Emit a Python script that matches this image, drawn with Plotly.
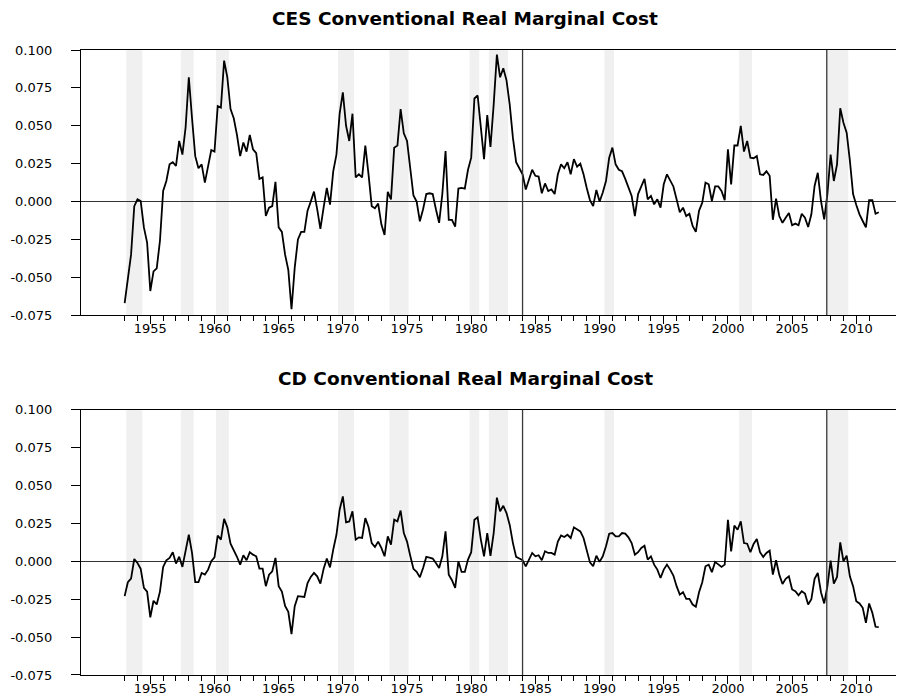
import plotly.graph_objects as go

# ---------------- data (quarterly, 1953Q1 .. 2011Q4) ----------------
start_year = 1953

ces_values = [
    -0.067, -0.052, -0.035, -0.003,      # 1953
    0.0015, 0.0004, -0.017, -0.027,      # 1954
    -0.059, -0.046, -0.044, -0.026,      # 1955
    0.007, 0.0136, 0.0246, 0.026,        # 1956
    0.0235, 0.040, 0.031, 0.049,         # 1957
    0.082, 0.055, 0.030, 0.022,          # 1958
    0.0246, 0.0125, 0.0235, 0.034,       # 1959
    0.033, 0.063, 0.062, 0.093,          # 1960
    0.082, 0.061, 0.055, 0.044,          # 1961
    0.030, 0.039, 0.033, 0.044,          # 1962
    0.0345, 0.032, 0.015, 0.016,         # 1963
    -0.0095, -0.004, -0.003, 0.013,      # 1964
    -0.017, -0.020, -0.035, -0.045,      # 1965
    -0.071, -0.0436, -0.025, -0.020,     # 1966
    -0.020, -0.006, 0.0, 0.0066,         # 1967
    -0.005, -0.018, -0.004, 0.009,       # 1968
    -0.002, 0.020, 0.031, 0.058,         # 1969
    0.072, 0.050, 0.040, 0.058,          # 1970
    0.016, 0.018, 0.016, 0.037,          # 1971
    0.018, -0.003, -0.0044, -0.0013,     # 1972
    -0.015, -0.022, 0.0064, 0.0015,      # 1973
    0.0356, 0.037, 0.061, 0.045,         # 1974
    0.040, 0.022, 0.004, 0.0,            # 1975
    -0.013, -0.005, 0.005, 0.0055,       # 1976
    0.005, -0.005, -0.014, 0.005,        # 1977
    0.0334, -0.012, -0.012, -0.0165,     # 1978
    0.0086, 0.009, 0.0086, 0.021,        # 1979
    0.029, 0.068, 0.070, 0.049,          # 1980
    0.028, 0.057, 0.036, 0.064,          # 1981
    0.097, 0.082, 0.088, 0.080,          # 1982
    0.064, 0.042, 0.026, 0.022,          # 1983
    0.018, 0.008, 0.015, 0.021,          # 1984
    0.017, 0.0165, 0.0055, 0.012,        # 1985
    0.007, 0.008, 0.005, 0.018,          # 1986
    0.0246, 0.022, 0.026, 0.018,         # 1987
    0.028, 0.023, 0.025, 0.018,          # 1988
    0.009, 0.001, -0.003, 0.0077,        # 1989
    0.0, 0.006, 0.0136, 0.029,           # 1990
    0.0356, 0.0246, 0.021, 0.020,        # 1991
    0.015, 0.009, 0.0037, -0.0095,       # 1992
    0.005, 0.010, 0.015, 0.0015,         # 1993
    0.0037, -0.0018, 0.0015, -0.004,     # 1994
    0.0114, 0.018, 0.014, 0.010,         # 1995
    0.0015, -0.007, -0.004, -0.0095,     # 1996
    -0.008, -0.016, -0.020, -0.006,      # 1997
    -0.0007, 0.0125, 0.0114, 0.0004,     # 1998
    0.010, 0.010, 0.007, 0.001,          # 1999
    0.0345, 0.0114, 0.037, 0.037,        # 2000
    0.050, 0.033, 0.040, 0.029,          # 2001
    0.0286, 0.030, 0.018, 0.0176,        # 2002
    0.020, 0.017, -0.012, 0.002,         # 2003
    -0.0095, -0.014, -0.0106, -0.0075,   # 2004
    -0.0156, -0.0145, -0.0156, -0.008,   # 2005
    -0.0106, -0.0167, -0.0084, 0.0103,   # 2006
    0.019, 0.0004, -0.0117, 0.005,       # 2007
    0.031, 0.0136, 0.0246, 0.0616,       # 2008
    0.052, 0.0455, 0.027, 0.005,         # 2009
    -0.0022, -0.0084, -0.0128, -0.017,   # 2010
    0.0009, 0.0009, -0.008, -0.007,      # 2011
]

cd_values = [
    -0.023, -0.0138, -0.0114, 0.0015,    # 1953
    -0.0011, -0.005, -0.0175, -0.020,    # 1954
    -0.037, -0.026, -0.0285, -0.020,     # 1955
    -0.0037, 0.0007, 0.0022, 0.006,      # 1956
    -0.0015, 0.003, -0.0037, 0.0077,     # 1957
    0.0175, 0.0055, -0.0138, -0.0138,    # 1958
    -0.0077, -0.0088, -0.0055, 0.0,      # 1959
    0.0026, 0.017, 0.0143, 0.028,        # 1960
    0.0224, 0.0116, 0.0077, 0.003,       # 1961
    -0.0022, 0.004, 0.0007, 0.006,       # 1962
    0.0044, 0.0033, -0.0048, -0.0048,    # 1963
    -0.0164, -0.0088, -0.0066, 0.0022,   # 1964
    -0.0164, -0.020, -0.0295, -0.0333,   # 1965
    -0.048, -0.0296, -0.023, -0.0235,    # 1966
    -0.0235, -0.0143, -0.0103, -0.0077,  # 1967
    -0.0099, -0.0147, -0.005, 0.0018,    # 1968
    -0.004, 0.0077, 0.0175, 0.034,       # 1969
    0.0428, 0.0257, 0.0263, 0.033,       # 1970
    0.0143, 0.0158, 0.0154, 0.0285,      # 1971
    0.0226, 0.012, 0.0094, 0.013,        # 1972
    0.0088, 0.0033, 0.0164, 0.011,       # 1973
    0.0274, 0.0263, 0.0335, 0.0186,      # 1974
    0.013, 0.0037, -0.005, -0.007,       # 1975
    -0.0105, -0.0044, 0.0029, 0.0024,    # 1976
    0.0018, -0.0011, -0.0044, 0.0033,    # 1977
    0.0197, -0.0088, -0.0125, -0.0175,   # 1978
    0.0, -0.007, -0.007, 0.0011,         # 1979
    0.006, 0.0274, 0.029, 0.0143,        # 1980
    0.0033, 0.0186, 0.0035, 0.0186,      # 1981
    0.042, 0.033, 0.0366, 0.0318,        # 1982
    0.024, 0.012, 0.0029, 0.0018,        # 1983
    0.0007, -0.0033, 0.0007, 0.0055,     # 1984
    0.0033, 0.004, 0.0007, 0.0066,       # 1985
    0.0055, 0.0055, 0.0044, 0.013,       # 1986
    0.017, 0.016, 0.0175, 0.0154,        # 1987
    0.0224, 0.0208, 0.0197, 0.0154,      # 1988
    0.0066, -0.0007, -0.0033, 0.0037,    # 1989
    -0.0004, 0.0033, 0.0099, 0.0182,     # 1990
    0.0186, 0.0164, 0.0164, 0.0186,      # 1991
    0.0182, 0.0158, 0.012, 0.0044,       # 1992
    0.006, 0.0088, 0.0103, 0.0011,       # 1993
    0.0033, -0.0022, -0.0055, -0.011,    # 1994
    -0.0055, -0.0022, -0.0055, -0.0094,  # 1995
    -0.0164, -0.022, -0.0204, -0.0248,   # 1996
    -0.0248, -0.0285, -0.030, -0.0204,   # 1997
    -0.0138, -0.0033, -0.0022, -0.0072,  # 1998
    -0.0004, -0.0022, -0.0037, -0.0022,  # 1999
    0.0274, 0.0066, 0.0235, 0.0208,      # 2000
    0.0263, 0.012, 0.0116, 0.006,        # 2001
    0.0114, 0.0147, 0.006, 0.0029,       # 2002
    0.0055, 0.007, -0.0088, 0.0007,      # 2003
    -0.0088, -0.015, -0.0116, -0.0099,   # 2004
    -0.0186, -0.0197, -0.0224, -0.0197,  # 2005
    -0.0213, -0.0285, -0.025, -0.0116,   # 2006
    -0.0077, -0.0204, -0.0278, -0.0164,  # 2007
    0.0004, -0.0147, -0.0103, 0.0125,    # 2008
    0.0, 0.0037, -0.0099, -0.0164,       # 2009
    -0.0263, -0.0278, -0.0307, -0.0406,  # 2010
    -0.0278, -0.034, -0.0432, -0.0434,   # 2011
]

# NBER recessions: (peak quarter, trough quarter) as decimal years
recession_starts = [1953.25, 1957.5, 1960.25, 1969.75, 1973.75, 1980.0, 1981.5, 1990.5, 2001.0, 2007.75]
recession_ends = [1954.25, 1958.25, 1961.0, 1970.75, 1975.0, 1980.5, 1982.75, 1991.0, 2001.75, 2009.25]

break_dates = [1984.0, 2007.7]

titles = ["CES Conventional Real Marginal Cost", "CD Conventional Real Marginal Cost"]

major_years = list(range(1955, 2011, 5))
minor_years = list(range(1953, 2012))
y_tickvals = [-0.075, -0.05, -0.025, 0.0, 0.025, 0.05, 0.075, 0.1]
y_ticktext = ["-0.075", "-0.050", "-0.025", "0.000", "0.025", "0.050", "0.075", "0.100"]

# ---------------- figure ----------------
x_dates = [start_year + i / 4 for i in range(len(ces_values))]

fig = go.Figure()
fig.add_trace(go.Scatter(x=x_dates, y=ces_values, mode="lines",
                         line=dict(color="black", width=1.8), xaxis="x", yaxis="y",
                         showlegend=False))
fig.add_trace(go.Scatter(x=x_dates, y=cd_values, mode="lines",
                         line=dict(color="black", width=1.8), xaxis="x2", yaxis="y2",
                         showlegend=False))

tick_font = dict(family="DejaVu Sans", size=13, color="black")

xaxis_common = dict(
    range=[1949.6, 2014.34], tickmode="array", tickvals=major_years,
    ticktext=[str(y) for y in major_years],
    ticks="outside", ticklen=8, tickwidth=1, tickcolor="black",
    showline=True, linecolor="black", linewidth=1.2, mirror=True,
    showgrid=False, zeroline=False, tickfont=tick_font, ticklabelstandoff=-7,
    minor=dict(tickmode="array", tickvals=minor_years, ticks="outside",
               ticklen=5, tickwidth=1, tickcolor="black", showgrid=False),
)
yaxis_common = dict(
    range=[-0.075, 0.1], tickmode="array", tickvals=y_tickvals, ticktext=y_ticktext,
    ticks="outside", ticklen=9, tickwidth=1, tickcolor="black",
    showline=True, linecolor="black", linewidth=1.2, mirror=False,
    showgrid=False, zeroline=True, zerolinecolor="#333333", zerolinewidth=1.2,
    tickfont=tick_font, ticklabelstandoff=16,
)

top_dom = [0.5755, 1.0]
bot_dom = [0.0, 0.4245]

fig.update_layout(
    width=904, height=694,
    margin=dict(l=73, r=0, t=42, b=27),
    paper_bgcolor="white", plot_bgcolor="white",
    xaxis=dict(xaxis_common, anchor="y", domain=[0, 1]),
    yaxis=dict(yaxis_common, anchor="x", domain=top_dom),
    xaxis2=dict(xaxis_common, anchor="y2", domain=[0, 1]),
    yaxis2=dict(yaxis_common, anchor="x2", domain=bot_dom),
)

shapes = []
for xr, yr in (("x", "y"), ("x2", "y2")):
    for s, e in zip(recession_starts, recession_ends):
        shapes.append(dict(type="rect", xref=xr, yref=f"{yr} domain",
                           x0=s - 0.125, x1=e + 0.125, y0=0, y1=1,
                           fillcolor="#f0f0f0", line=dict(width=0), layer="below"))
    for b in break_dates:
        shapes.append(dict(type="line", xref=xr, yref=f"{yr} domain",
                           x0=b, x1=b, y0=0, y1=1,
                           line=dict(color="#3a3a3a", width=1.3), layer="above"))
fig.update_layout(shapes=shapes)

title_x = (457 - 73) / 831
fig.add_annotation(text=f"<b>{titles[0]}</b>", xref="paper", yref="paper",
                   x=title_x, y=(667 - 11) / 625, xanchor="center", yanchor="middle",
                   showarrow=False, font=dict(family="DejaVu Sans", size=18.5, color="black"))
fig.add_annotation(text=f"<b>{titles[1]}</b>", xref="paper", yref="paper",
                   x=title_x, y=(667 - 370.7) / 625, xanchor="center", yanchor="middle",
                   showarrow=False, font=dict(family="DejaVu Sans", size=18.5, color="black"))

fig.write_html("out.html")
